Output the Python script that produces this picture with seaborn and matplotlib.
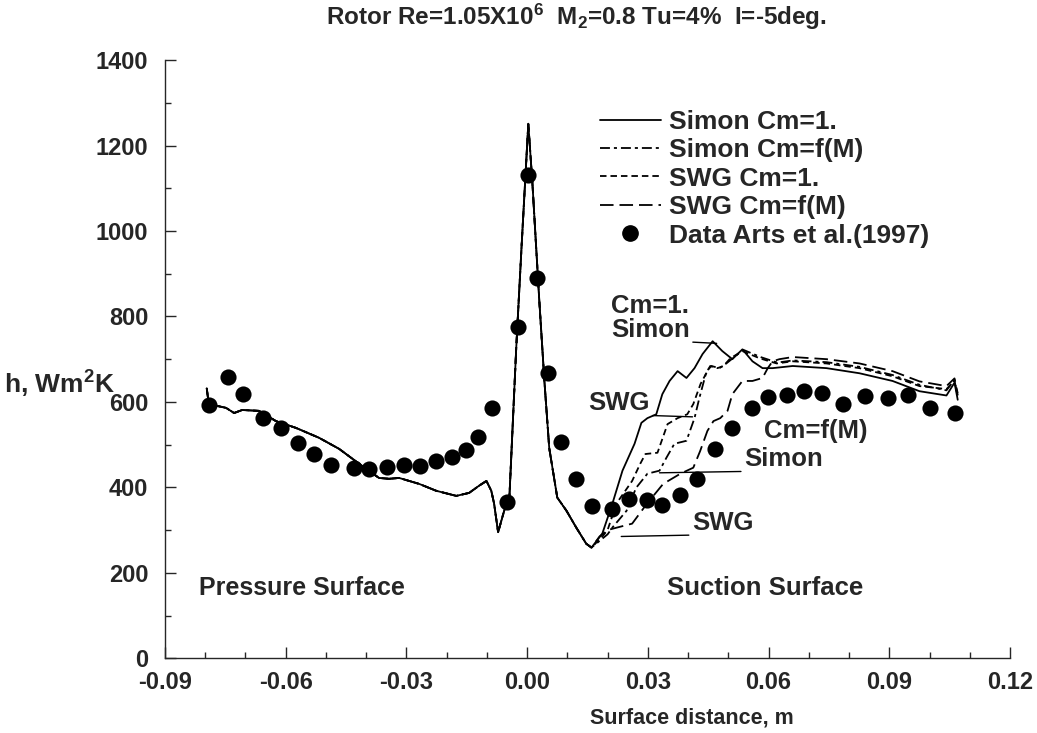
import matplotlib
matplotlib.use('Agg')

import numpy as np
import pandas as pd
import matplotlib.pyplot as plt
import seaborn as sns
from matplotlib.lines import Line2D
from matplotlib.ticker import MultipleLocator, FormatStrFormatter

# ------------------------------------------------------------------------
# data
# pressure side + leading edge: the four predictions lie on top of each other
# ------------------------------------------------------------------------
x_lead = [-0.0796, -0.0791, -0.0748, -0.0728, -0.0708, -0.0666, -0.0624, -0.0574,
          -0.0517, -0.0467, -0.0417, -0.0368, -0.0343, -0.0318, -0.0268, -0.0226,
          -0.0176, -0.0144, -0.0119, -0.0101, -0.0089, -0.0082, -0.0072, -0.0057,
          -0.0044, -0.0027, -0.0014, 0.0003, 0.0013, 0.0030, 0.0043, 0.0055,
          0.0075, 0.0098, 0.0122, 0.0147]
h_lead = [632, 595, 586, 574, 581, 579, 555, 539,
          516, 490, 455, 422, 420, 422, 408, 392,
          380, 387, 404, 415, 392, 362, 295, 345,
          376, 726, 959, 1251, 1115, 842, 649, 492,
          376, 345, 306, 268]

# suction side, one list per model
x_simon_1 = [0.0160, 0.0187, 0.0212, 0.0237, 0.0267, 0.0284, 0.0299, 0.0321,
             0.0336, 0.0354, 0.0374, 0.0396, 0.0416, 0.0436, 0.0461, 0.0485,
             0.0510, 0.0535, 0.0560, 0.0585, 0.0610, 0.0660, 0.0744, 0.0826,
             0.0908, 0.0975, 0.1042, 0.1062, 0.1070]
h_simon_1 = [259, 292, 362, 439, 502, 551, 562, 571,
             618, 649, 672, 656, 679, 712, 742, 719,
             700, 723, 695, 679, 679, 684, 679, 667,
             649, 625, 615, 645, 605]

x_simon_m = [0.0160, 0.0200, 0.0212, 0.0247, 0.0271, 0.0299, 0.0329, 0.0346,
             0.0366, 0.0396, 0.0416, 0.0428, 0.0446, 0.0458, 0.0478, 0.0495,
             0.0515, 0.0537, 0.0580, 0.0622, 0.0660, 0.0744, 0.0826, 0.0908,
             0.0975, 0.1042, 0.1062, 0.1070]
h_simon_m = [259, 290, 306, 345, 399, 432, 439, 469,
             502, 509, 562, 609, 672, 684, 679, 690,
             705, 722, 705, 692, 697, 693, 682, 663,
             640, 627, 652, 612]

x_swg_1 = [0.0160, 0.0187, 0.0200, 0.0222, 0.0261, 0.0281, 0.0294, 0.0324,
           0.0349, 0.0374, 0.0398, 0.0413, 0.0431, 0.0448, 0.0455, 0.0473,
           0.0488, 0.0505, 0.0535, 0.0545, 0.0578, 0.0620, 0.0660, 0.0744,
           0.0826, 0.0908, 0.0975, 0.1042, 0.1062, 0.1070]
h_swg_1 = [259, 285, 300, 362, 415, 455, 478, 481,
           548, 562, 571, 595, 642, 672, 684, 679,
           684, 702, 719, 715, 702, 690, 695, 690,
           679, 660, 637, 630, 649, 615]

x_swg_m = [0.0160, 0.0180, 0.0200, 0.0224, 0.0261, 0.0298, 0.0338, 0.0381,
           0.0413, 0.0430, 0.0448, 0.0463, 0.0480, 0.0498, 0.0510, 0.0535,
           0.0560, 0.0585, 0.0598, 0.0610, 0.0627, 0.0660, 0.0744, 0.0826,
           0.0908, 0.0975, 0.1042, 0.1062, 0.1070]
h_swg_m = [259, 285, 300, 306, 315, 362, 408, 432,
           446, 485, 532, 555, 562, 579, 618, 649,
           649, 656, 679, 695, 700, 705, 700, 690,
           672, 648, 637, 655, 620]

# measurements, Arts et al. (1997)
x_data = [-0.0791, -0.0743, -0.0706, -0.0656, -0.0611, -0.0569, -0.0529, -0.0487,
          -0.0430, -0.0393, -0.0348, -0.0305, -0.0266, -0.0226, -0.0186, -0.0151,
          -0.0122, -0.0087, -0.0049, -0.0022, 0.0003, 0.0025, 0.0053, 0.0085,
          0.0122, 0.0162, 0.0210, 0.0254, 0.0297, 0.0336, 0.0379, 0.0423,
          0.0468, 0.0508, 0.0558, 0.0598, 0.0645, 0.0687, 0.0732, 0.0784,
          0.0839, 0.0896, 0.0946, 0.1000, 0.1063]
h_data = [593, 658, 618, 562, 539, 504, 478, 453,
          446, 443, 448, 453, 450, 462, 471, 488,
          518, 586, 366, 775, 1132, 889, 667, 506,
          420, 357, 350, 373, 371, 359, 383, 420,
          490, 539, 586, 611, 616, 625, 621, 595,
          614, 609, 616, 586, 574]

models = ['Simon Cm=1.', 'Simon Cm=f(M)', 'SWG Cm=1.', 'SWG Cm=f(M)']
suction = {'Simon Cm=1.': (x_simon_1, h_simon_1),
           'Simon Cm=f(M)': (x_simon_m, h_simon_m),
           'SWG Cm=1.': (x_swg_1, h_swg_1),
           'SWG Cm=f(M)': (x_swg_m, h_swg_m)}
dash_styles = {'Simon Cm=1.': '',
               'Simon Cm=f(M)': (5.5, 2.2, 1.7, 2.2),
               'SWG Cm=1.': (3.6, 2.2),
               'SWG Cm=f(M)': (7.5, 3.3)}

rows = []
for m in models:
    xs = x_lead + suction[m][0]
    hs = h_lead + suction[m][1]
    for i in range(len(xs)):
        rows.append([i, xs[i], hs[i], m])
df = pd.DataFrame(rows, columns=['idx', 's', 'h', 'model'])

# ------------------------------------------------------------------------
# plotting
# ------------------------------------------------------------------------
sns.set_style('ticks')
plt.rcParams['font.family'] = ['Liberation Sans', 'DejaVu Sans']
plt.rcParams['font.weight'] = 'bold'
plt.rcParams['axes.unicode_minus'] = False
plt.rcParams['xtick.direction'] = 'in'
plt.rcParams['ytick.direction'] = 'in'
plt.rcParams['mathtext.fontset'] = 'custom'
plt.rcParams['mathtext.rm'] = 'Liberation Sans:bold'
plt.rcParams['mathtext.bf'] = 'Liberation Sans:bold'
plt.rcParams['mathtext.default'] = 'bf'

fs = 15.5      # x axis label
fs_big = 18.5  # labels inside the plot
fig = plt.figure(figsize=(10.37, 7.33), dpi=100)
ax = fig.add_axes([0.159, 0.102, 0.815, 0.816])

sns.lineplot(data=df, x='s', y='h', style='model', style_order=models,
             dashes=dash_styles, color='black', sort=False, estimator=None,
             lw=1.3, legend=False, ax=ax)
sns.scatterplot(x=x_data, y=h_data, color='black', s=135, linewidth=0,
                zorder=3, ax=ax)

ax.set_xlim(-0.09, 0.12)
ax.set_ylim(0, 1400)
ax.xaxis.set_major_locator(MultipleLocator(0.03))
ax.xaxis.set_minor_locator(MultipleLocator(0.01))
ax.xaxis.set_major_formatter(FormatStrFormatter('%.2f'))
ax.yaxis.set_major_locator(MultipleLocator(200))
ax.yaxis.set_minor_locator(MultipleLocator(100))
ax.tick_params(which='major', direction='in', length=8, width=1, labelsize=17)
ax.tick_params(which='minor', direction='in', length=4, width=1)
ax.tick_params(axis='x', which='major', pad=9)
ax.tick_params(axis='y', which='major', pad=12)
for lab in ax.get_xticklabels() + ax.get_yticklabels():
    lab.set_fontweight('bold')
sns.despine(ax=ax)
ax.spines['left'].set_linewidth(1)
ax.spines['bottom'].set_linewidth(1)

ax.set_xlabel('Surface distance, m', fontsize=fs, fontweight='bold')
ax.xaxis.set_label_coords(0.623, -0.083)
ax.set_ylabel('h, Wm$^2$K', fontsize=19, fontweight='bold', rotation=0,
              ha='left', va='center')
ax.yaxis.set_label_coords(-0.19, 0.457)

ax.text(0.487, 1.072, 'Rotor Re=1.05X10$^6$  M$_2$=0.8 Tu=4%  I=-5deg.',
        transform=ax.transAxes, ha='center', va='center', fontsize=17.5,
        fontweight='bold')

ax.text(-0.0815, 165, 'Pressure Surface', fontsize=18, fontweight='bold',
        ha='left', va='center')
ax.text(0.0347, 165, 'Suction Surface', fontsize=fs_big, fontweight='bold',
        ha='left', va='center')
ax.text(0.0717, 532, 'Cm=f(M)', fontsize=fs_big, fontweight='bold',
        ha='center', va='center')

# labels with leader lines
leader = dict(arrowstyle='-', lw=1, color='black', shrinkA=0, shrinkB=0)
ax.annotate('Cm=1.\nSimon', xy=(0.0471, 737), xytext=(-19.5, 1),
            textcoords='offset points', ha='right', va='bottom',
            multialignment='left', fontsize=fs_big, fontweight='bold',
            linespacing=1.0, arrowprops=dict(leader, relpos=(1, 0)))
ax.annotate('SWG', xy=(0.0411, 565), xytext=(-31, 1),
            textcoords='offset points', ha='right', va='bottom',
            fontsize=fs_big, fontweight='bold', arrowprops=dict(leader, relpos=(1, 0)))
ax.annotate('Simon', xy=(0.0329, 434), xytext=(61, 1),
            textcoords='offset points', ha='left', va='bottom',
            fontsize=fs_big, fontweight='bold', arrowprops=dict(leader, relpos=(0, 0)))
ax.annotate('SWG', xy=(0.0234, 285), xytext=(51, 1),
            textcoords='offset points', ha='left', va='bottom',
            fontsize=fs_big, fontweight='bold', arrowprops=dict(leader, relpos=(0, 0)))

handles = []
for m in models:
    if dash_styles[m] == '':
        handles.append(Line2D([], [], color='black', lw=1.3, ls='-'))
    else:
        handles.append(Line2D([], [], color='black', lw=1.3, dashes=dash_styles[m]))
handles.append(Line2D([], [], color='black', marker='o', ls='', markersize=11))
leg = ax.legend(handles, models + ['Data Arts et al.(1997)'], loc='upper left',
                bbox_to_anchor=(0.515, 0.917), frameon=False, borderpad=0,
                borderaxespad=0, handlelength=2.3, handletextpad=0.3,
                labelspacing=0.17, markerfirst=True,
                prop={'size': 19, 'weight': 'bold'})

fig.savefig('out.png', dpi=100)
